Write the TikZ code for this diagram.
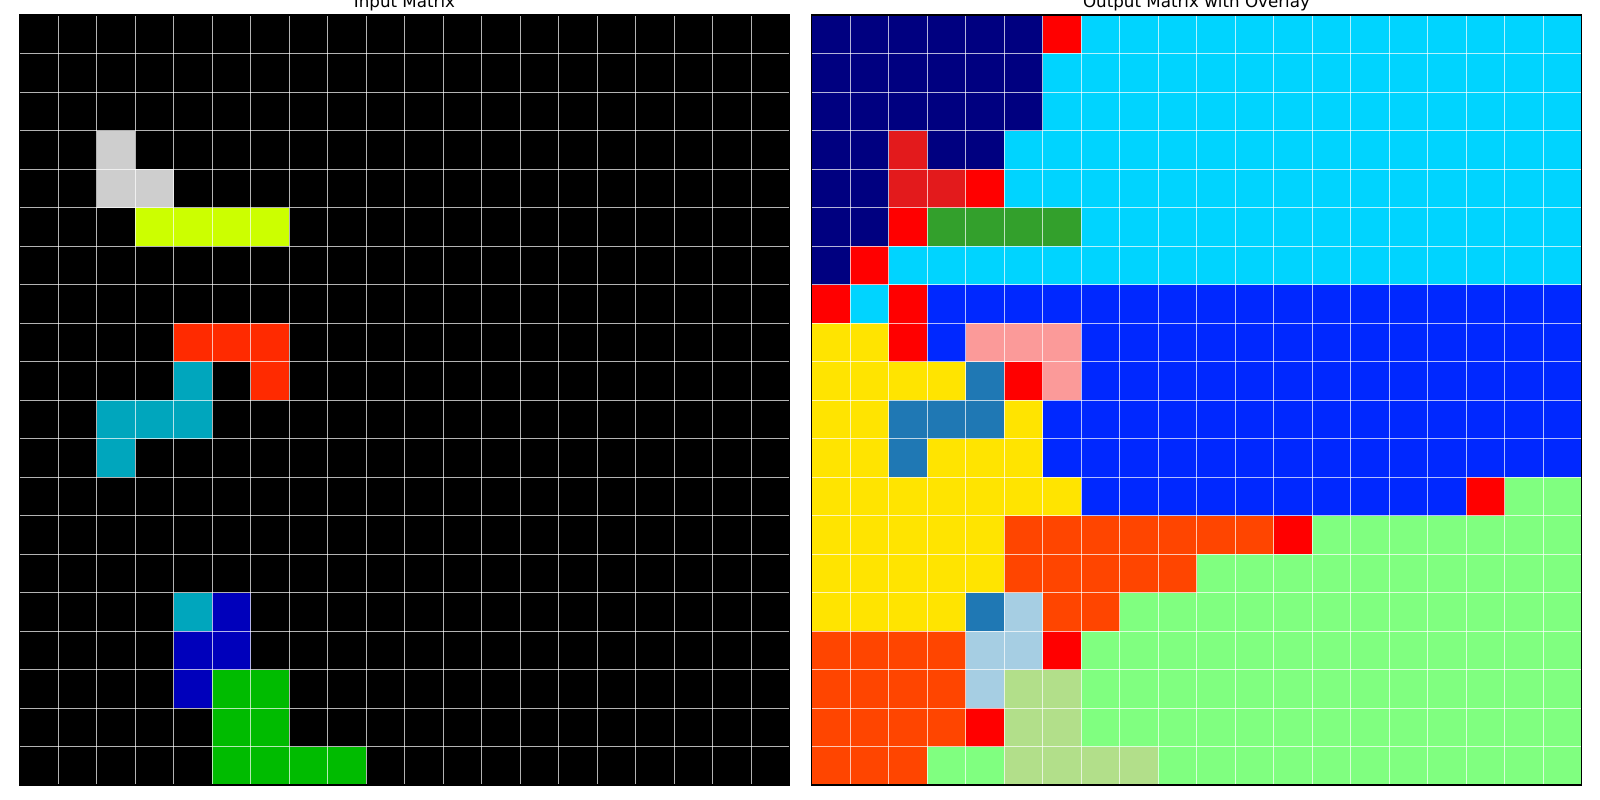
\documentclass[tikz,border=0pt]{standalone}
\usepackage{fontspec}
\setmainfont{DejaVu Sans}
\usepackage{tikz}
\usetikzlibrary{positioning}

% input colours
\definecolor{inGray}{HTML}{CECECE}
\definecolor{inLime}{HTML}{CCFF00}
\definecolor{inScarlet}{HTML}{FF2A00}
\definecolor{inTeal}{HTML}{00A6BD}
\definecolor{inBlue}{HTML}{0000BB}
\definecolor{inGreen}{HTML}{00BB00}
% output colours
\definecolor{cNavy}{HTML}{000080}
\definecolor{cRed}{HTML}{FF0000}
\definecolor{cDRed}{HTML}{E31A1C}
\definecolor{cCyan}{HTML}{00D4FF}
\definecolor{cGreen}{HTML}{33A02C}
\definecolor{cBlue}{HTML}{0028FF}
\definecolor{cYellow}{HTML}{FFE400}
\definecolor{cPink}{HTML}{FB9A99}
\definecolor{cSteel}{HTML}{1F78B4}
\definecolor{cOrange}{HTML}{FF4500}
\definecolor{cLBlue}{HTML}{A6CEE3}
\definecolor{cPale}{HTML}{B2DF8A}
\definecolor{cLGreen}{HTML}{80FF80}

\newcommand{\cellsz}{38.5}

\begin{document}
\begin{tikzpicture}[x=1pt, y=-1pt,
    gridline/.style={white, opacity=0.7, line width=1pt},
    matframe/.style={black, line width=1.3pt},
    plottitle/.style={anchor=base, inner sep=0pt, font=\fontsize{16.7}{20}\selectfont}]
    \useasboundingbox (0,0) rectangle (1600,800);
    \clip (0,0) rectangle (1600,800);
    \fill[white] (0,0) rectangle (1600,800);

    % Input matrix
    \fill[black] (19.5,15) rectangle ++(770,770);
    \foreach \r/\a/\b/\c in {3/2/2/inGray, 4/2/3/inGray, 5/3/6/inLime,
        8/4/6/inScarlet, 9/4/4/inTeal, 9/6/6/inScarlet, 10/2/4/inTeal, 11/2/2/inTeal,
        15/4/4/inTeal, 15/5/5/inBlue, 16/4/5/inBlue, 17/4/4/inBlue,
        17/5/6/inGreen, 18/5/6/inGreen, 19/5/8/inGreen} {
        \fill[\c] ({19.5+\cellsz*\a},{15+\cellsz*\r}) rectangle ({19.5+\cellsz*(\b+1)},{15+\cellsz*(\r+1)});
    }

    % Output matrix, row by row
    \foreach \r/\a/\b/\c in {0/0/5/cNavy, 0/6/6/cRed, 0/7/19/cCyan,
        1/0/5/cNavy, 1/6/19/cCyan,
        2/0/5/cNavy, 2/6/19/cCyan,
        3/0/1/cNavy, 3/2/2/cDRed, 3/3/4/cNavy, 3/5/19/cCyan,
        4/0/1/cNavy, 4/2/3/cDRed, 4/4/4/cRed, 4/5/19/cCyan,
        5/0/1/cNavy, 5/2/2/cRed, 5/3/6/cGreen, 5/7/19/cCyan,
        6/0/0/cNavy, 6/1/1/cRed, 6/2/19/cCyan,
        7/0/0/cRed, 7/1/1/cCyan, 7/2/2/cRed, 7/3/19/cBlue,
        8/0/1/cYellow, 8/2/2/cRed, 8/3/3/cBlue, 8/4/6/cPink, 8/7/19/cBlue,
        9/0/3/cYellow, 9/4/4/cSteel, 9/5/5/cRed, 9/6/6/cPink, 9/7/19/cBlue,
        10/0/1/cYellow, 10/2/4/cSteel, 10/5/5/cYellow, 10/6/19/cBlue,
        11/0/1/cYellow, 11/2/2/cSteel, 11/3/5/cYellow, 11/6/19/cBlue,
        12/0/6/cYellow, 12/7/16/cBlue, 12/17/17/cRed, 12/18/19/cLGreen,
        13/0/4/cYellow, 13/5/11/cOrange, 13/12/12/cRed, 13/13/19/cLGreen,
        14/0/4/cYellow, 14/5/9/cOrange, 14/10/19/cLGreen,
        15/0/3/cYellow, 15/4/4/cSteel, 15/5/5/cLBlue, 15/6/7/cOrange, 15/8/19/cLGreen,
        16/0/3/cOrange, 16/4/5/cLBlue, 16/6/6/cRed, 16/7/19/cLGreen,
        17/0/3/cOrange, 17/4/4/cLBlue, 17/5/6/cPale, 17/7/19/cLGreen,
        18/0/3/cOrange, 18/4/4/cRed, 18/5/6/cPale, 18/7/19/cLGreen,
        19/0/2/cOrange, 19/3/4/cLGreen, 19/5/8/cPale, 19/9/19/cLGreen} {
        \fill[\c] ({811.5+\cellsz*\a},{15+\cellsz*\r}) rectangle ({811.5+\cellsz*(\b+1)},{15+\cellsz*(\r+1)});
    }

    % Grid lines and frames
    \foreach \ox in {19.5, 811.5} {
        \foreach \i in {1,...,19} {
            \draw[gridline] ({\ox+\cellsz*\i},15) -- ++(0,770);
            \draw[gridline] (\ox,{15+\cellsz*\i}) -- ++(770,0);
        }
        \draw[matframe] (\ox,15) rectangle ++(770,770);
    }

    % Titles
    \node[plottitle] (intitle) at (404.5,7.5) {Input Matrix};
    \node[plottitle] (outtitle) at (1196.5,7.5) {Output Matrix with Overlay};
\end{tikzpicture}
\end{document}
